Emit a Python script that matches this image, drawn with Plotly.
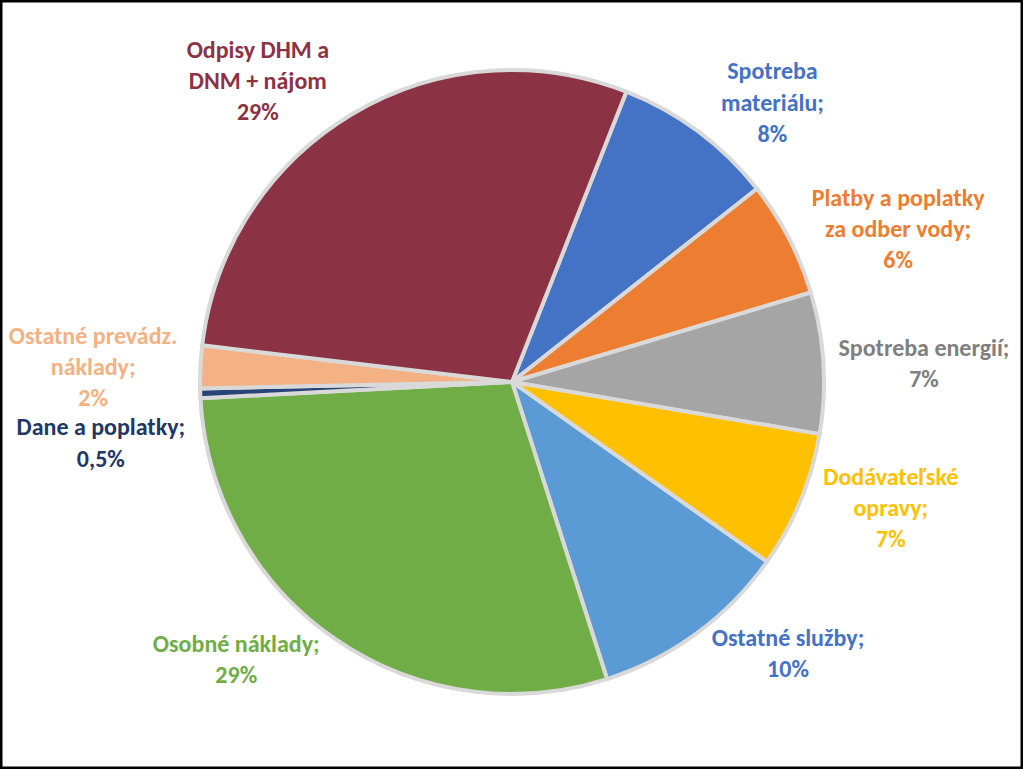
import plotly.graph_objects as go

categories = ["Spotreba materiálu", "Platby a poplatky za odber vody", "Spotreba energií",
              "Dodávateľské opravy", "Ostatné služby", "Osobné náklady", "Dane a poplatky",
              "Ostatné prevádz. náklady", "Odpisy DHM a DNM + nájom"]
values = [8.4, 6.0, 7.3, 7.1, 10.3, 29.1, 0.5, 2.2, 29.1]
label_text = ["Spotreba<br>materiálu;", "Platby a poplatky<br>za odber vody;", "Spotreba energií;",
              "Dodávateľské<br>opravy;", "Ostatné služby;", "Osobné náklady;", "Dane a poplatky;",
              "Ostatné prevádz.<br>náklady;", "Odpisy DHM a<br>DNM + nájom"]
pct_format = [".0%", ".0%", ".0%", ".0%", ".0%", ".0%", ".1%", ".0%", ".0%"]
slice_colors = ["#4472C4", "#ED7D31", "#A5A5A5", "#FFC000", "#5B9BD5", "#70AD47", "#264478", "#F4B183", "#8B3344"]
label_colors = ["#4472C4", "#ED7D31", "#7F7F7F", "#FFC000", "#4472C4", "#70AD47", "#1F3864", "#F4B183", "#8B3344"]

templates = ["%{text}<br>%{percent:" + f + "}" for f in pct_format]

fig = go.Figure(go.Pie(
    labels=categories,
    values=values,
    text=label_text,
    texttemplate=templates,
    textinfo="text",
    textposition="outside",
    sort=False,
    direction="clockwise",
    rotation=21.5,
    marker=dict(colors=slice_colors, line=dict(color="#D9D9D9", width=4)),
    outsidetextfont=dict(family="Calibri, Lato, sans-serif", size=24, weight="bold", color=label_colors),
    hoverinfo="label+percent",
    domain=dict(x=[0.1955, 0.8055], y=[0.0976, 0.909]),
    showlegend=False,
))

fig.update_layout(
    width=1023, height=769,
    margin=dict(l=0, r=0, t=0, b=0),
    paper_bgcolor="white",
    separators=", ",
    font=dict(family="Calibri, Lato, sans-serif", size=24),
    shapes=[dict(type="rect", xref="paper", yref="paper", x0=0, x1=1, y0=0, y1=1,
                 line=dict(color="black", width=5), layer="above")],
)

post = ("document.body.style.margin='0';document.body.style.overflow='hidden';"
        "var s=document.createElement('style');s.textContent='.textline{display:none}';"
        "document.head.appendChild(s);")
fig.write_html("out.html", config={"displayModeBar": False}, post_script=post)
